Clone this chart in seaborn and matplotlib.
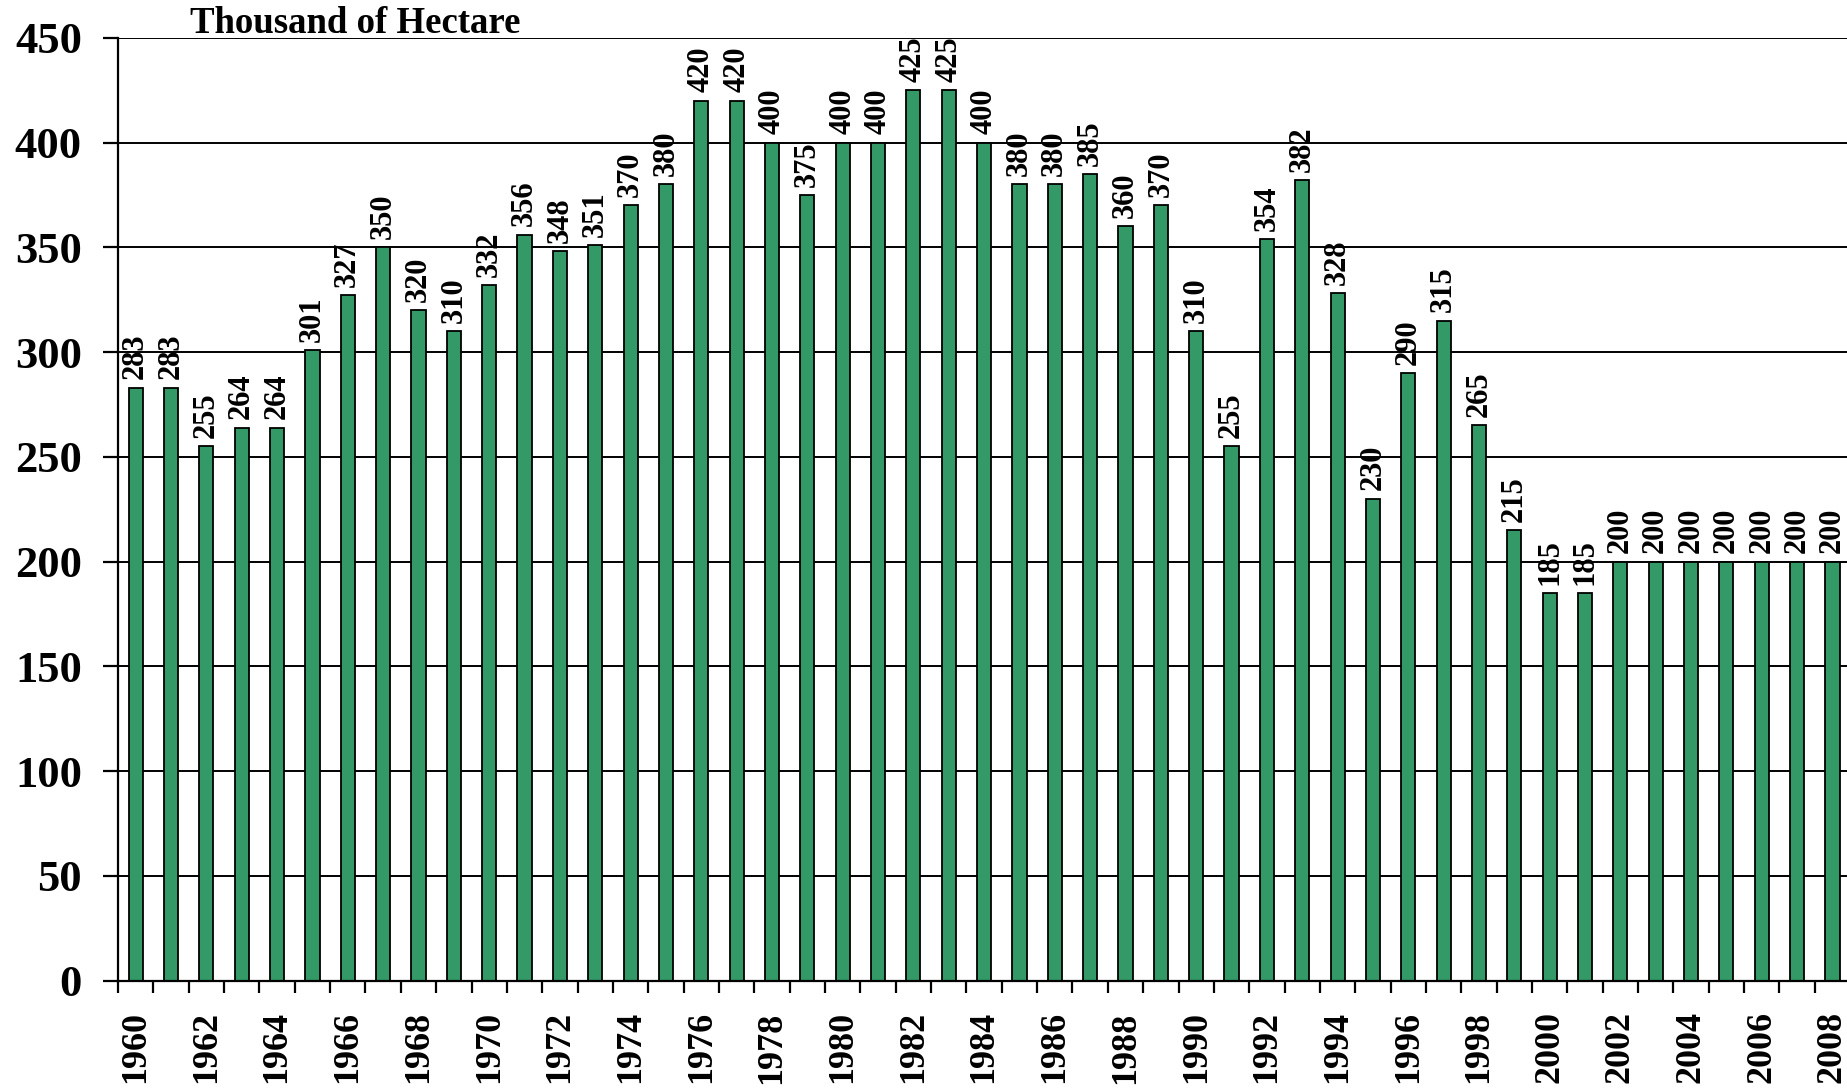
import seaborn as sns
import matplotlib.pyplot as plt
import pandas as pd

years = list(range(1960, 2009))
values = [283, 283, 255, 264, 264, 301, 327, 350, 320, 310,
          332, 356, 348, 351, 370, 380, 420, 420, 400, 375,
          400, 400, 425, 425, 400, 380, 380, 385, 360, 370,
          310, 255, 354, 382, 328, 230, 290, 315, 265, 215,
          185, 185, 200, 200, 200, 200, 200, 200, 200]
y_ticks = [0, 50, 100, 150, 200, 250, 300, 350, 400, 450]
unit_label = 'Thousand of Hectare'

df = pd.DataFrame({'year': [str(y) for y in years], 'area': values})

sns.set_style('white')
plt.rcParams['font.family'] = ['Liberation Serif', 'DejaVu Serif']
plt.rcParams['font.weight'] = 'bold'
plt.rcParams['text.color'] = 'black'
plt.rcParams['xtick.color'] = 'black'
plt.rcParams['ytick.color'] = 'black'

fig = plt.figure(figsize=(18.47, 10.88), dpi=100)
ax = fig.add_axes([0.0639, 0.0986, 0.9378, 0.8667])

sns.barplot(data=df, x='year', y='area', color='#339966', saturation=1,
            width=0.4, edgecolor='black', linewidth=1.3, ax=ax, zorder=3)

# value labels above the bars
for i, v in enumerate(values):
    ax.annotate(str(v), (i, v), xytext=(0, 6), textcoords='offset points',
                rotation=90, ha='center', va='bottom', color='black',
                fontsize=22, fontweight='bold', zorder=4)

ax.set_ylim(0, 450)
ax.set_xlim(-0.5, len(years) - 0.5)
ax.set_yticks(y_ticks)
ax.set_yticklabels([str(t) for t in y_ticks], fontsize=32, fontweight='bold')
ax.yaxis.grid(True, color='black', linewidth=1.4, zorder=0)
ax.set_axisbelow(True)

# year labels on every other bar, tick marks between bars
ax.set_xticks(range(0, len(years), 2))
ax.set_xticklabels([str(y) for y in years[::2]], rotation=90,
                   fontsize=26, fontweight='bold')
ax.set_xticks([i - 0.5 for i in range(len(years) + 1)], minor=True)
ax.tick_params(axis='x', which='major', bottom=True, length=0, pad=22,
               labelcolor='black')
ax.tick_params(axis='x', which='minor', bottom=True, length=8.5, width=1.6,
               color='black', direction='out')
ax.tick_params(axis='y', which='major', left=True, length=11, width=1.6,
               color='black', direction='out', pad=15, labelcolor='black')

ax.set_xlabel('')
ax.set_ylabel('')
for side in ['top', 'right']:
    ax.spines[side].set_visible(False)
for side in ['left', 'bottom']:
    ax.spines[side].set_color('black')
    ax.spines[side].set_linewidth(1.6)
    ax.spines[side].set_zorder(5)

fig.text(190 / 1847, 1 - 33 / 1088, unit_label, fontsize=26.5, color='black',
         fontweight='bold', va='baseline', ha='left')

fig.savefig('out.png', dpi=100)
